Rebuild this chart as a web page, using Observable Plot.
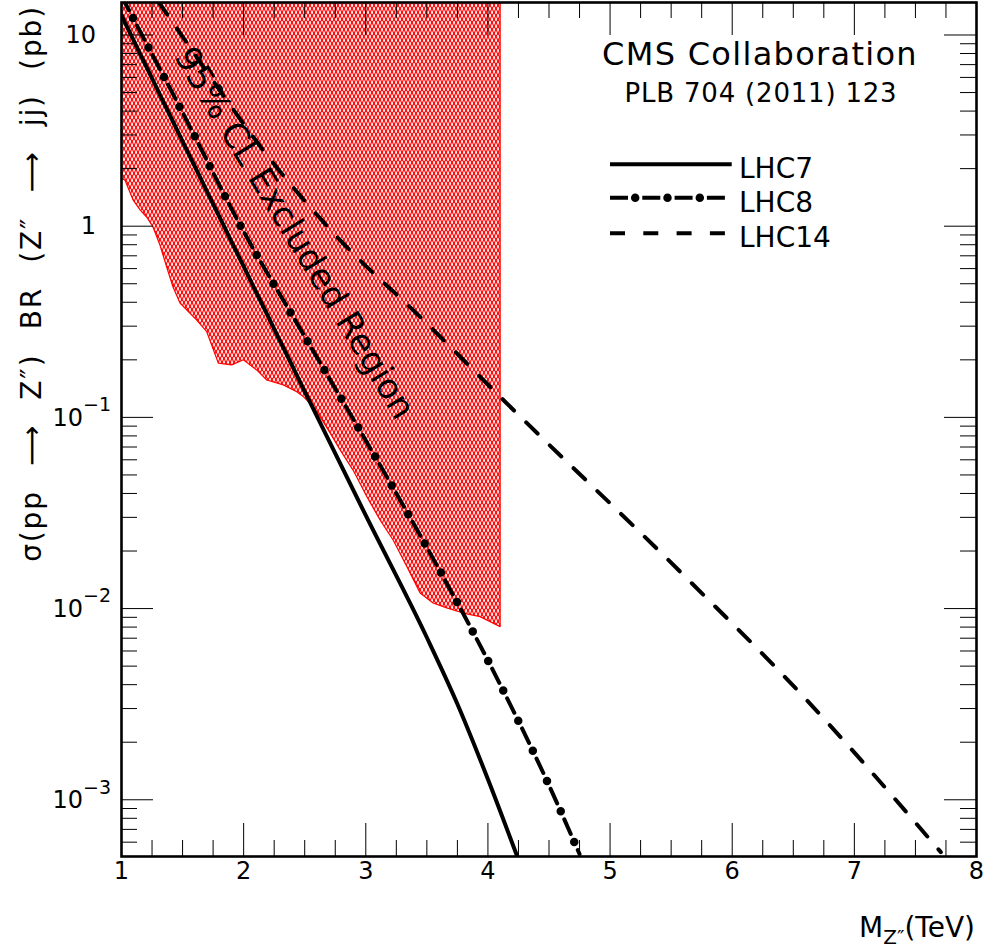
<!DOCTYPE html>
<html><head><meta charset="utf-8">
<script src="https://cdn.jsdelivr.net/npm/d3@7"></script>
<script src="https://cdn.jsdelivr.net/npm/@observablehq/plot@0.6"></script>
<style>
html,body{margin:0;padding:0;background:#fff;}
#chart{width:984px;height:951px;}
</style></head><body><div id="chart"></div>
<script>
// ---- data (mass in TeV, sigma*BR in pb) ----
const lhc7Mass  = [1.0, 1.5, 2.0, 2.5, 3.0, 3.5, 3.75, 4.0, 4.24];
const lhc7Xsec  = [12.65, 2.78, 0.616, 0.1366, 0.0307, 0.00706, 0.00317, 0.00128, 0.000505];
const lhc8Mass  = [1.0, 1.5, 2.0, 2.5, 3.0, 3.5, 4.0, 4.5, 4.75];
const lhc8Xsec  = [15.96, 3.93, 0.938, 0.265, 0.0757, 0.0209, 0.00535, 0.00119, 0.00052];
const lhc14Mass = [1.3, 1.456, 2.247, 2.767, 3.476, 4.09, 5.605, 6.588, 7.708];
const lhc14Xsec = [15, 10.77, 2.12, 0.876, 0.321, 0.130, 0.0149, 0.00344, 0.000532];
const exclMass = [1.0, 1.033, 1.10, 1.156, 1.21, 1.262, 1.319, 1.374, 1.426, 1.483, 1.62, 1.702, 1.797, 1.907, 2.002, 2.111, 2.193, 2.329, 2.439, 2.493, 2.575, 2.630, 2.712, 2.794, 2.900, 3.012, 3.121, 3.228, 3.340, 3.449, 3.555, 3.667, 3.801, 3.940, 4.104];
const exclXsec = [1.776, 1.73, 1.36, 1.21, 1.11, 0.985, 0.792, 0.608, 0.478, 0.394, 0.321, 0.279, 0.191, 0.187, 0.199, 0.176, 0.156, 0.147, 0.1355, 0.1276, 0.113, 0.1003, 0.0824, 0.0671, 0.0527, 0.0383, 0.0289, 0.0227, 0.0165, 0.0120, 0.01063, 0.01002, 0.00942, 0.00902, 0.0080];
const seriesNames = ["LHC7", "LHC8", "LHC14"];
const annotText = ["95% CL Excluded Region"];
const annotMass = [2.415];
const annotXsec = [0.92];
const xTickValues = [1, 2, 3, 4, 5, 6, 7, 8];
const xTickLabels = ["1", "2", "3", "4", "5", "6", "7", "8"];
const yTickValues = [10, 1, 0.1, 0.01, 0.001];
const yTickBase = ["10", "1", "10", "10", "10"];
const yTickExp  = ["", "", "\u22121", "\u22122", "\u22123"];
const xMinorTicks = [1.25,1.5,1.75,2.25,2.5,2.75,3.25,3.5,3.75,4.25,4.5,4.75,5.25,5.5,5.75,6.25,6.5,6.75,7.25,7.5,7.75];
const yMinorTicks = [6e-4,7e-4,8e-4,9e-4, 2e-3,3e-3,4e-3,5e-3,6e-3,7e-3,8e-3,9e-3, 0.02,0.03,0.04,0.05,0.06,0.07,0.08,0.09, 0.2,0.3,0.4,0.5,0.6,0.7,0.8,0.9, 2,3,4,5,6,7,8,9];
const yTitle = "\u03c3(pp \u27f6 Z\u2033) BR (Z\u2033 \u27f6 jj) (pb)";
const headerLines = ["CMS Collaboration", "PLB 704 (2011) 123"];

const toRows = (ms, vs) => ms.map((m, i) => ({m, s: vs[i]}));
const lhc7 = toRows(lhc7Mass, lhc7Xsec);
const lhc8 = toRows(lhc8Mass, lhc8Xsec);
const lhc14 = toRows(lhc14Mass, lhc14Xsec);
const excl = toRows(exclMass, exclXsec);
const annot = annotText.map((t, i) => ({t, m: annotMass[i], s: annotXsec[i]}));

const FONT = "'DejaVu Sans', sans-serif";
const H = 951, W = 984, MT = 2, MB = 95, ML = 121, MR = 8;
const PH = H - MT - MB, PW = W - ML - MR;
// LHC8 dash-dot style: dash, gap, dot, gap  (period 33.4 px)
const DASH8 = 16, PER8 = 33.4, DOT8 = 8.5;

const chart = Plot.plot({
  width: W, height: H,
  marginLeft: ML, marginRight: MR, marginTop: MT, marginBottom: MB,
  style: {fontFamily: FONT, background: "white", color: "black", overflow: "visible"},
  x: {domain: [1, 8], axis: null},
  y: {type: "log", domain: [5.05e-4, 14.79], axis: null},
  marks: [
    Plot.areaY(excl, {x: "m", y1: "s", y2: () => 1000, fill: "url(#cmsHatch)", stroke: "#ff0000", strokeWidth: 1.2, clip: true}),
    Plot.line(lhc14, {x: "m", y: "s", stroke: "black", strokeWidth: 4, strokeDasharray: "16 17", curve: "monotone-x", clip: true}),
    Plot.line(lhc8, {x: "m", y: "s", stroke: "black", strokeWidth: 4, strokeDasharray: `${DASH8} ${PER8 - DASH8}`, curve: "monotone-x", clip: true}),
    Plot.line(lhc8, {x: "m", y: "s", stroke: "black", strokeWidth: DOT8, strokeDasharray: `0 ${PER8}`, strokeDashoffset: PER8 - (DASH8 + (PER8 - DASH8) / 2), strokeLinecap: "round", curve: "monotone-x", clip: true}),
    Plot.line(lhc7, {x: "m", y: "s", stroke: "black", strokeWidth: 4, curve: "monotone-x", clip: true}),
    Plot.text(annot, {x: "m", y: "s", text: "t", rotate: 58.6, fontSize: 34.5, fill: "black", textAnchor: "middle", lineAnchor: "middle"}),
    // inward ticks, all four sides
    Plot.ruleX(xTickValues, {stroke: "black", strokeWidth: 1, insetTop: PH - 33}),
    Plot.ruleX(xMinorTicks, {stroke: "black", strokeWidth: 1, insetTop: PH - 16}),
    Plot.ruleX(xTickValues, {stroke: "black", strokeWidth: 1, insetBottom: PH - 33}),
    Plot.ruleX(xMinorTicks, {stroke: "black", strokeWidth: 1, insetBottom: PH - 16}),
    Plot.ruleY(yTickValues, {stroke: "black", strokeWidth: 1, insetRight: PW - 32}),
    Plot.ruleY(yMinorTicks, {stroke: "black", strokeWidth: 1, insetRight: PW - 16}),
    Plot.ruleY(yTickValues, {stroke: "black", strokeWidth: 1, insetLeft: PW - 32}),
    Plot.ruleY(yMinorTicks, {stroke: "black", strokeWidth: 1, insetLeft: PW - 16}),
    Plot.frame({stroke: "black", strokeWidth: 2.6}),
    Plot.axisX(xTickValues, {anchor: "bottom", label: null, tickSize: 0, tickPadding: 5, fontSize: 24, tickFormat: (d, i) => xTickLabels[i]})
  ]
});
document.getElementById("chart").appendChild(chart);

const svg = d3.select(chart);
const ys = chart.scale("y");

// hatch pattern for the excluded region
const defs = svg.insert("defs", ":first-child");
const pat = defs.append("pattern").attr("id", "cmsHatch").attr("patternUnits", "userSpaceOnUse")
  .attr("width", 4).attr("height", 7);
pat.append("rect").attr("width", 4).attr("height", 7).attr("fill", "#ff1010");
pat.append("ellipse").attr("cx", 2).attr("cy", 1.75).attr("rx", 0.9).attr("ry", 2.0).attr("fill", "#fff");
pat.append("ellipse").attr("cx", 0).attr("cy", 5.25).attr("rx", 0.9).attr("ry", 2.0).attr("fill", "#fff");
pat.append("ellipse").attr("cx", 4).attr("cy", 5.25).attr("rx", 0.9).attr("ry", 2.0).attr("fill", "#fff");

// y tick labels with superscript exponents
const yl = svg.append("g").attr("font-family", FONT).attr("font-size", 24).attr("fill", "black");
yTickValues.forEach((v, i) => {
  const py = ys.apply(v);
  const t = yl.append("text").attr("y", py).attr("dy", "0.36em").attr("text-anchor", "end")
    .attr("x", yTickExp[i] ? 111 : 96).text(yTickBase[i]);
  if (yTickExp[i]) t.append("tspan").attr("font-size", 19).attr("dy", "-0.75em").text(yTickExp[i]);
});

// y-axis title, stretched (letter + word spacing) to the reference span
const yt = svg.append("text").attr("font-family", FONT).attr("font-size", 28)
  .attr("transform", "translate(41,5) rotate(-90)").attr("text-anchor", "end").text(yTitle);
const yLen = yt.node().getComputedTextLength();
const nSpaces = (yTitle.match(/ /g) || []).length;
if (yLen < 555 && nSpaces) {
  const extra = 555 - yLen;
  const nChars = yTitle.length - 1;
  yt.attr("letter-spacing", extra * 0.35 / nChars).attr("word-spacing", extra * 0.65 / nSpaces);
}

// x-axis title
const xt = svg.append("text").attr("font-family", FONT).attr("font-size", 28)
  .attr("x", 975).attr("y", 937).attr("text-anchor", "end");
xt.append("tspan").text("M");
xt.append("tspan").attr("font-size", 20).attr("dy", 7).text("Z\u2033");
xt.append("tspan").attr("dy", -7).text("(TeV)");

// header
svg.append("text").attr("font-family", FONT).attr("font-size", 32).attr("letter-spacing", 1.3)
  .attr("x", 760).attr("y", 65).attr("text-anchor", "middle").text(headerLines[0]);
svg.append("text").attr("font-family", FONT).attr("font-size", 26).attr("letter-spacing", 0.8)
  .attr("x", 761).attr("y", 101.5).attr("text-anchor", "middle").text(headerLines[1]);

// legend
const legY = [164.3, 197.7, 233.3];
const legEnd = [731.7, 725, 725];
const lg = svg.append("g");
seriesNames.forEach((name, i) => {
  const ln = () => lg.append("line").attr("x1", 610).attr("x2", legEnd[i]).attr("y1", legY[i]).attr("y2", legY[i]).attr("stroke", "black");
  if (i === 0) ln().attr("stroke-width", 4);
  if (i === 1) {
    ln().attr("stroke-width", 4).attr("stroke-dasharray", "18 14.3");
    ln().attr("stroke-width", DOT8).attr("stroke-dasharray", "0 32.3").attr("stroke-dashoffset", -25.2).attr("stroke-linecap", "round");
  }
  if (i === 2) ln().attr("stroke-width", 4).attr("stroke-dasharray", "15 18.3");
  lg.append("text").attr("font-family", FONT).attr("font-size", 28).attr("text-anchor", "start")
    .attr("x", 739).attr("y", legY[i] + 4).attr("dy", "0.35em").text(name);
});
</script>
</body></html>
